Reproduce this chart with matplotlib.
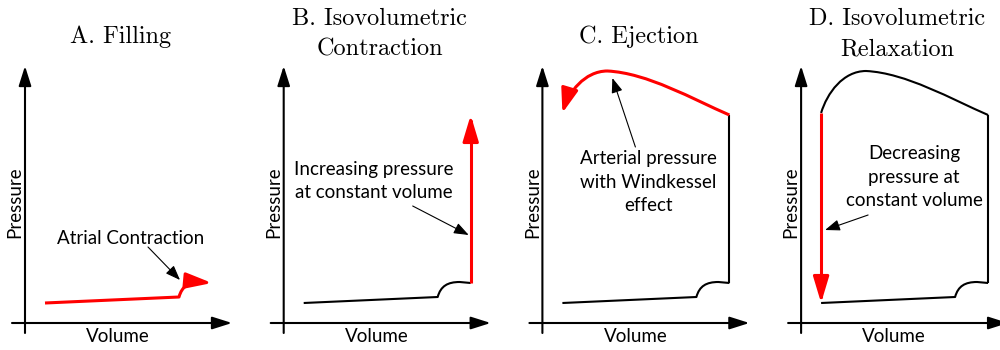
import matplotlib.pyplot as plt
from matplotlib.path import Path
from matplotlib.patches import FancyArrowPatch, PathPatch

# Schematic PV loop, arbitrary units (volume, pressure)
esv, edv = 20, 187
filling_v = [esv, 154]
filling_p = [20, 26]
# atrial kick: cubic Bezier (start, ctrl, ctrl, end) then a short flat run
kick_v = [154, 157, 164, 176, 187]
kick_p = [26, 37, 41, 41, 40]
# ejection: two cubic Bezier pieces from end-diastole over the peak back to end-systole
ejection_v = [187, 150, 105, 65, 42, 26, 20]
ejection_p = [208, 224, 250, 252, 252, 230, 210]

titles = [["A. Filling"],
          ["B. Isovolumetric", "Contraction"],
          ["C. Ejection"],
          ["D. Isovolumetric", "Relaxation"]]
notes = ["Atrial Contraction",
         "Increasing pressure\nat constant volume",
         "Arterial pressure\nwith Windkessel\neffect",
         "Decreasing\npressure at\nconstant volume"]
note_xy = [(106, 85), (90, 142), (106, 141), (113, 146)]
pointer_from = [(123, 76), (129, 117), (93, 176), (67, 108)]
pointer_to = [(155, 43), (185, 88), (70, 245), (24, 93)]

SANS = "Lato"
RED = "#ff0000"
M, C4, L = Path.MOVETO, Path.CURVE4, Path.LINETO


def filling_path():
    verts = [(filling_v[0], filling_p[0]), (filling_v[1], filling_p[1])]
    verts += list(zip(kick_v[1:], kick_p[1:]))
    return verts, [M, L, C4, C4, C4, L]


def ejection_path():
    return list(zip(ejection_v, ejection_p)), [M, C4, C4, C4, C4, C4, C4]


def arrow(ax, verts, codes, color, lw, style, zorder=3):
    p = FancyArrowPatch(path=Path(verts, codes), arrowstyle=style, color=color,
                        lw=lw, mutation_scale=20, shrinkA=0, shrinkB=0,
                        joinstyle="round", capstyle="butt", zorder=zorder)
    ax.add_patch(p)


def line(ax, verts, codes, color="black", lw=1.5):
    ax.add_patch(PathPatch(Path(verts, codes), fill=False, edgecolor=color,
                           lw=lw, joinstyle="round", capstyle="butt", zorder=2))


fig = plt.figure(figsize=(10, 3.5), dpi=100)
step = 258.7
red_head = "-|>,head_length=0.8,head_width=0.24"

for i in range(4):
    left = i * step
    ax = fig.add_axes([left / 1000, 0, 250 / 1000, 1])
    ax.set_xlim(-25, 225)
    ax.set_ylim(-27, 323)
    ax.axis("off")

    # axes drawn as arrows
    axis_head = "-|>,head_length=0.6,head_width=0.19"
    ax.annotate("", xy=(207, 0), xytext=(-13, 0),
                arrowprops=dict(arrowstyle=axis_head, color="black", lw=1.5,
                                mutation_scale=20, shrinkA=0, shrinkB=0))
    ax.annotate("", xy=(0, 257), xytext=(0, -10),
                arrowprops=dict(arrowstyle=axis_head, color="black", lw=1.5,
                                mutation_scale=20, shrinkA=0, shrinkB=0))
    ax.text(93, -14, "Volume", family=SANS, fontsize=13.5, ha="center", va="center")
    ax.text(-10, 121, "Pressure", family=SANS, fontsize=13.5, ha="center",
            va="center", rotation=90)

    # title
    lines = titles[i]
    base = [280] if len(lines) == 1 else [298, 268]
    for txt, y in zip(lines, base):
        ax.text(96, y, txt, family="cmr10", fontsize=17.5, ha="center", va="baseline")

    fv, fc = filling_path()
    ev, ec = ejection_path()
    if i == 0:
        arrow(ax, fv, fc, RED, 2.2, "-|>,head_length=0.8,head_width=0.24")
    else:
        line(ax, fv, fc)
    if i == 1:
        arrow(ax, [(edv, kick_p[-1]), (edv, ejection_p[0])], [M, L], RED, 2.2, red_head)
    elif i >= 2:
        line(ax, [(edv, kick_p[-1]), (edv, ejection_p[0])], [M, L])
    if i == 2:
        arrow(ax, ev, ec, RED, 2.2, "-|>,head_length=0.75,head_width=0.26")
    elif i == 3:
        line(ax, ev, ec)
        arrow(ax, [(esv, ejection_p[-1]), (esv, filling_p[0])], [M, L], RED, 2.2, red_head)

    # annotation
    ax.text(*note_xy[i], notes[i], family=SANS, fontsize=13.5, ha="center",
            va="center", linespacing=1.45)
    ax.annotate("", xy=pointer_to[i], xytext=pointer_from[i],
                arrowprops=dict(arrowstyle="-|>,head_length=0.45,head_width=0.17",
                                color="black", lw=0.8, mutation_scale=20,
                                shrinkA=0, shrinkB=0))

fig.savefig("out.png", dpi=100)
